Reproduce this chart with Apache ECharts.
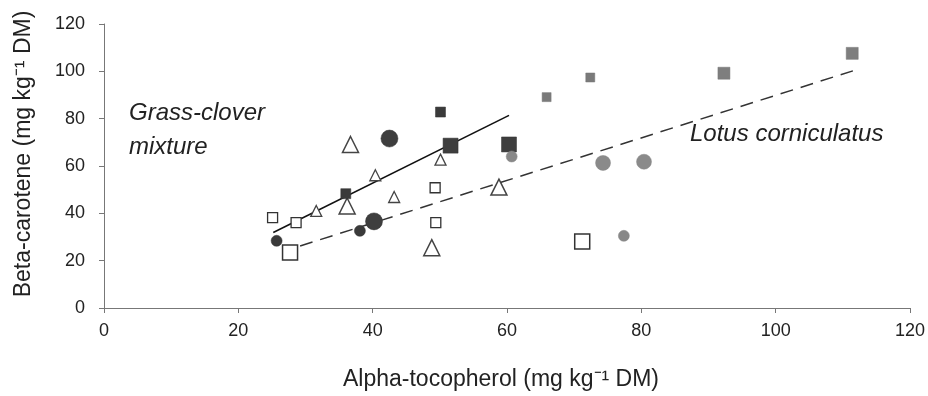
<!DOCTYPE html>
<html><head><meta charset="utf-8">
<script src="https://cdn.jsdelivr.net/npm/echarts@6/dist/echarts.min.js"></script>
<style>html,body{margin:0;padding:0;background:#fff}#c{width:928px;height:396px}</style>
</head><body><div id="c"></div>
<script>
// Data (alpha-tocopherol, beta-carotene)
const smallOpenSquare = [[25.1,38.2],[28.6,36.1],[49.3,50.8],[49.4,36.1]];
const largeOpenSquare = [[27.7,23.4],[71.2,28.1]];
const smallOpenTriangle = [[31.6,41],[40.4,56.1],[43.2,46.9],[50.1,62.7]];
const largeOpenTriangle = [[36.2,43.1],[36.7,69.1],[48.8,25.5],[58.8,51.1]];
const smallDarkSquare = [[36.0,48.3],[50.1,82.8]];
const largeDarkSquare = [[51.6,68.6],[60.3,69.1]];
const smallDarkCircle = [[25.7,28.4],[38.1,32.6]];
const largeDarkCircle = [[40.2,36.6],[42.5,71.6]];
const smallGraySquare = [[65.9,89.1],[72.4,97.4]];
const largeGraySquare = [[92.3,99.2],[111.4,107.6]];
const smallGrayCircle = [[60.7,64],[77.4,30.5]];
const largeGrayCircle = [[74.3,61.3],[80.4,61.8]];
const grassCloverLine = [[25.2,31.9],[60.3,81.4]];
const lotusLine = [[29.2,26.2],[111.5,100.2]];
const xTicks = [0,20,40,60,80,100,120];
const yTicks = [0,20,40,60,80,100,120];

const FONT = 'Liberation Sans';
function sc(data, symbol, size, fill, stroke, bw){
  return {type:'scatter', data, symbol, symbolSize:size, z:3,
    itemStyle:{color:fill, borderColor:stroke, borderWidth:bw, opacity:1}};
}
const chart = echarts.init(document.getElementById('c'));
chart.setOption({
  animation:false,
  grid:{left:104,right:18,top:24,bottom:87},
  xAxis:{type:'value',min:xTicks[0],max:xTicks[xTicks.length-1],interval:20,
    name:'Alpha-tocopherol (mg kg⁻¹ DM)',nameLocation:'middle',nameGap:60,
    nameTextStyle:{fontFamily:FONT,fontSize:23,color:'#222',padding:[0,12,0,0]},
    axisLine:{lineStyle:{color:'#777',width:1}},axisTick:{length:5,lineStyle:{color:'#777'}},
    axisLabel:{fontFamily:FONT,fontSize:18,color:'#222',margin:14},splitLine:{show:false}},
  yAxis:{type:'value',min:yTicks[0],max:yTicks[yTicks.length-1],interval:20,
    name:'Beta-carotene (mg kg⁻¹ DM)',nameLocation:'middle',nameGap:69,
    nameTextStyle:{fontFamily:FONT,fontSize:23,color:'#222',padding:[0,0,0,24]},
    axisLine:{show:true,lineStyle:{color:'#777',width:1}},axisTick:{show:true,length:5,lineStyle:{color:'#777'}},
    axisLabel:{fontFamily:FONT,fontSize:18,color:'#222',margin:19},splitLine:{show:false}},
  series:[
    {type:'line',data:grassCloverLine,symbol:'none',z:2,lineStyle:{color:'#111',width:1.6}},
    {type:'line',data:lotusLine,symbol:'none',z:2,lineStyle:{color:'#333',width:1.5,type:[13,8]}},
    sc(smallOpenSquare,'rect',10,'#fff','#333',1.3),
    sc(largeOpenSquare,'rect',15,'#fff','#333',1.5),
    sc(smallOpenTriangle,'triangle',11,'#fff','#444',1.3),
    sc(largeOpenTriangle,'triangle',16,'#fff','#444',1.5),
    sc(smallDarkSquare,'rect',10,'#3a3a3a','#333',0.5),
    sc(largeDarkSquare,'rect',15,'#3e3e3e','#333',0.5),
    sc(smallDarkCircle,'circle',11,'#3a3a3a','#333',0.5),
    sc(largeDarkCircle,'circle',17,'#3e3e3e','#333',0.5),
    sc(smallGraySquare,'rect',9,'#7a7a7a','#777',0.5),
    sc(largeGraySquare,'rect',12,'#7e7e7e','#777',0.5),
    sc(smallGrayCircle,'circle',11,'#888','#888',0.5),
    sc(largeGrayCircle,'circle',15,'#8a8a8a','#888',0.5)
  ],
  graphic:[
    {type:'text',x:129,y:113,style:{text:'Grass-clover',font:'italic 24px "Liberation Sans"',fill:'#222',verticalAlign:'middle'}},
    {type:'text',x:129,y:147,style:{text:'mixture',font:'italic 24px "Liberation Sans"',fill:'#222',verticalAlign:'middle'}},
    {type:'text',x:690,y:134.5,style:{text:'Lotus corniculatus',font:'italic 24px "Liberation Sans"',fill:'#222',verticalAlign:'middle'}}
  ]
});
</script></body></html>
